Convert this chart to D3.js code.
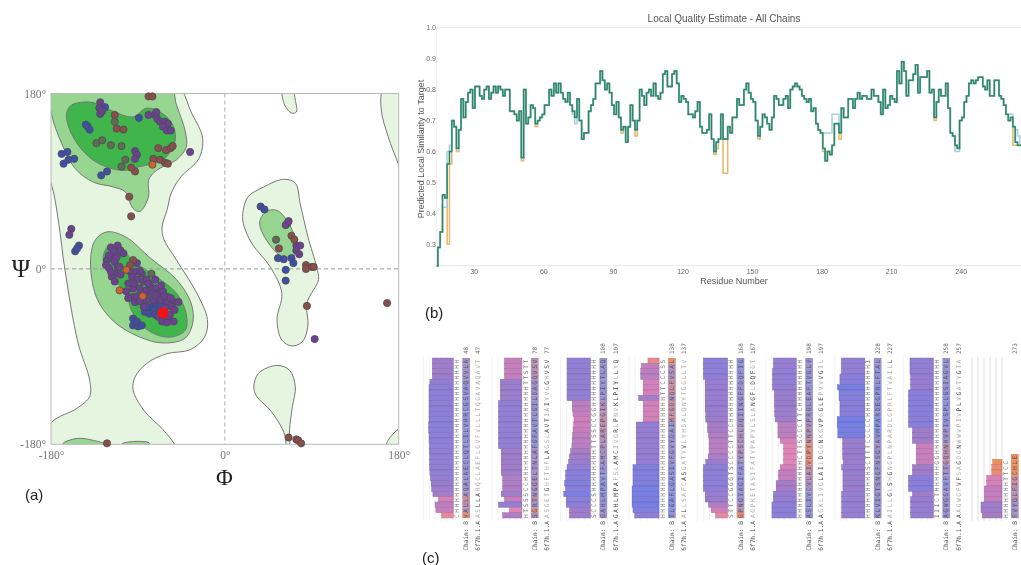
<!DOCTYPE html>
<html>
<head>
<meta charset="utf-8">
<script src="https://cdnjs.cloudflare.com/ajax/libs/d3/7.8.5/d3.min.js"></script>
<style>
  html, body { margin: 0; padding: 0; background: #fff; }
  svg { display: block; filter: blur(0.5px); }
</style>
</head>
<body>
<svg id="fig" width="1021" height="565"></svg>
<script>
// (a) ramachandran contours, [phi, psi] in degrees
const allowedMain = [[-55,195],[-34,159],[-23,134],[-27,113],[-45,95],[-55,79],[-60,60],[-65,43],[-63,30],[-50,9],[-29,-25],[-18,-52],[-21,-70],[-36,-83],[-60,-87],[-81,-97],[-93,-111],[-95,-124],[-84,-145],[-64,-165],[-52,-180],[-45,-195],[-200,-200],[-180,-158],[-153,-143],[-140,-131],[-140,-114],[-152,-76],[-166,2],[-172,47],[-180,88],[-200,130],[-200,200]]
const allowedMid = [[19,60],[24,74],[40,84],[61,92],[73,88],[78,67],[86,33],[95,2],[97,-11],[85,-35],[86,-59],[80,-75],[69,-79],[59,-73],[54,-52],[59,-25],[47,2],[28,26],[19,47]]
const allowedLow = [[54,-99],[67,-104],[73,-121],[70,-141],[67,-165],[67,-182],[64,-189],[62,-170],[47,-145],[33,-131],[30,-121],[35,-107]]
const allowedTop = [[60,183],[62,168],[69,160],[74,161],[73,173],[70,183]]
const allowedTopRight = [[164,183],[162,163],[169,136],[180,107],[187,91],[192,160],[187,187]]
const allowedBottomRight = [[180,-164],[169,-176],[166,-186],[188,-189],[190,-158]]
const favouredTop = [[-58,190],[-50,168],[-41,141],[-40,125],[-50,112],[-71,101],[-79,91],[-79,74],[-88,59],[-95,62],[-103,79],[-115,84],[-136,89],[-155,103],[-169,129],[-178,153],[-181,173],[-176,185]]
const favouredCentre = [[-139,9],[-134,30],[-122,38],[-103,33],[-77,11],[-50,-11],[-35,-35],[-33,-54],[-41,-71],[-64,-76],[-88,-70],[-115,-54],[-133,-29]]
const favouredMid = [[36,47],[43,59],[54,60],[64,50],[73,31],[74,16],[61,12],[47,24]]
const favouredBottomA = [[-168,-180],[-153,-174],[-136,-176],[-125,-180],[-147,-193]]
const favouredBottomB = [[-107,-180],[-91,-177],[-78,-179],[-91,-191]]
const coreTop = [[-164,159],[-159,168],[-138,171],[-119,163],[-95,156],[-81,165],[-64,159],[-53,146],[-52,129],[-64,112],[-88,105],[-105,101],[-126,106],[-143,117],[-159,139]]
const coreCentre = [[-126,9],[-121,23],[-109,23],[-96,9],[-71,-8],[-50,-25],[-40,-46],[-41,-63],[-57,-70],[-78,-64],[-96,-44],[-102,-25],[-115,-11]]

// residues, grouped by dot colour
const ramaBlue = [[-124,166],[-89,155],[-142,146],[-140,143],[-144,148],[-128,96],[-122,100],[-169,118],[-163,120],[-156,113],[-162,112],[-167,108],[-151,24],[-155,18],[-153,21],[-83,-44],[-76,-39],[-71,-39],[-81,-39],[-74,-42],[-67,-44],[-69,-35],[-60,-34],[-78,-46],[-72,-47],[-66,-38],[-95,-51],[-91,-54],[-95,-58],[-90,-59],[-86,-58],[-93,-54],[37,64],[41,61],[55,11],[61,10],[69,11],[71,6],[63,-1],[63,-12]]
const ramaPurple = [[-118,22],[-111,24],[-115,18],[-108,19],[-105,16],[-122,9],[-117,11],[-123,4],[-114,7],[-120,1],[-111,2],[-114,-5],[-117,-8],[-114,-13],[-109,2],[-91,6],[-93,-3],[-86,-5],[-96,-8],[-91,-11],[-84,-13],[-81,-11],[-72,-11],[-77,-18],[-71,-20],[-100,-15],[-95,-20],[-88,-20],[-102,-23],[-96,-29],[-93,-34],[-100,-30],[-81,-22],[-76,-25],[-69,-25],[-64,-23],[-59,-29],[-53,-34],[-48,-34],[-81,-32],[-74,-32],[-67,-32],[-60,-35],[-55,-39],[-84,-39],[-69,-49],[-57,-47],[-53,-54],[-65,-54],[-59,-52],[-120,14],[-112,12],[-118,-3],[-108,-6],[-99,-2],[-88,-2],[-94,-15],[-86,-27],[-91,-28],[-79,-15],[-66,-17],[-72,-27],[-62,-28],[-56,-30],[-88,-33],[-83,-27],[-62,-40],[-52,-42],[-60,-55],[-129,171],[-130,165],[-129,159],[-127,162],[-79,158],[-72,158],[-71,161],[-70,154],[-67,151],[-62,151],[-59,149],[-64,146],[-60,142],[-56,142],[-93,121],[-91,117],[-93,113],[-36,120],[-159,41],[-161,35],[65,47],[63,45],[66,49],[74,24],[78,24],[74,19],[77,15],[93,-72]]
const ramaBrown = [[-93,100],[-97,104],[-69,124],[-61,122],[-56,124],[-54,126],[-74,113],[-67,112],[-62,109],[-59,108],[-99,74],[-97,54],[-79,177],[-75,177],[-95,9],[-98,4],[84,4],[84,0],[90,2],[92,2],[56,21],[69,34],[72,30],[85,-38],[168,-35],[66,-173],[74,-175],[76,-176],[79,-179],[-122,-179],[-114,158],[-112,144],[-105,143]]
const ramaOlive = [[-114,151],[-133,129],[-127,132],[-118,127],[-107,126],[-103,112],[-107,105],[-76,-5],[53,30]]
const ramaOrange = [[-102,-1],[-109,-22],[-85,-28],[-75,107]]
const ramaRed = [[-64,-45]]

// (b) local quality estimate, one value per residue from 14
const chainDark = [0.23,0.29,0.34,0.46,0.45,0.56,0.60,0.70,0.68,0.61,0.67,0.77,0.71,0.76,0.79,0.80,0.74,0.81,0.81,0.78,0.77,0.80,0.81,0.77,0.79,0.81,0.79,0.81,0.80,0.78,0.80,0.80,0.73,0.73,0.72,0.70,0.73,0.58,0.80,0.69,0.71,0.75,0.74,0.69,0.70,0.71,0.72,0.75,0.75,0.80,0.78,0.82,0.79,0.82,0.79,0.77,0.76,0.79,0.75,0.73,0.71,0.77,0.70,0.64,0.66,0.66,0.73,0.75,0.77,0.82,0.82,0.86,0.83,0.80,0.82,0.79,0.75,0.72,0.76,0.71,0.67,0.68,0.63,0.68,0.75,0.70,0.67,0.70,0.80,0.78,0.75,0.79,0.80,0.78,0.82,0.78,0.77,0.79,0.85,0.86,0.81,0.81,0.85,0.86,0.82,0.76,0.78,0.77,0.76,0.72,0.72,0.71,0.73,0.76,0.68,0.66,0.66,0.67,0.72,0.64,0.60,0.63,0.64,0.72,0.64,0.64,0.68,0.66,0.71,0.71,0.77,0.75,0.75,0.80,0.82,0.79,0.77,0.76,0.70,0.65,0.68,0.72,0.71,0.69,0.67,0.71,0.78,0.77,0.75,0.75,0.77,0.78,0.74,0.80,0.81,0.82,0.81,0.80,0.78,0.77,0.76,0.77,0.73,0.74,0.69,0.67,0.66,0.61,0.57,0.60,0.59,0.62,0.69,0.69,0.66,0.74,0.71,0.71,0.77,0.77,0.74,0.77,0.79,0.77,0.78,0.78,0.77,0.77,0.80,0.78,0.78,0.76,0.72,0.80,0.74,0.75,0.78,0.77,0.76,0.86,0.82,0.89,0.86,0.78,0.83,0.83,0.85,0.88,0.79,0.84,0.84,0.84,0.86,0.79,0.80,0.71,0.76,0.80,0.78,0.78,0.82,0.74,0.66,0.65,0.62,0.61,0.70,0.71,0.76,0.78,0.82,0.83,0.82,0.83,0.84,0.84,0.81,0.80,0.83,0.78,0.78,0.83,0.83,0.78,0.77,0.75,0.72,0.70,0.71,0.68,0.63,0.62,0.62,0.62,0.62]
// the other chains only differ at a few residues, [residue, value]
const chainBlueDiff = [[17,0.42],[18,0.42],[19,0.60],[20,0.62],[73,0.72],[74,0.69],[181,0.66],[182,0.66],[183,0.66],[184,0.66],[185,0.72],[186,0.72],[187,0.72],[238,0.60],[239,0.60],[261,0.72],[262,0.72],[263,0.68],[264,0.67],[265,0.65]]
const chainOrangeDiff = [[19,0.30],[20,0.56],[23,0.60],[51,0.57],[57,0.68],[94,0.66],[100,0.65],[129,0.66],[134,0.59],[135,0.61],[138,0.53],[139,0.53],[153,0.64],[181,0.60],[188,0.64],[229,0.70],[263,0.62],[264,0.62]]
const residueTicks = [30,60,90,120,150,180,210,240]
const similarityTicks = [0.3,0.4,0.5,0.6,0.7,0.8,0.9,1.0]

// (c) alignment blocks, top row first
const blockBars = [
  [.70,.70,.70,.70,.78,.81,.81,.81,.81,.81,.81,.81,.82,.82,.81,.81,.80,.80,.79,.79,.79,.78,.76,.74,.72,.68,.50,.61,.58,.39],
  [.58,.58,.58,.58,.72,.72,.72,.72,.78,.78,.78,.78,.78,.78,.78,.78,.78,.69,.69,.69,.69,.69,.64,.64,.64,.69,.58,.78,.42,.64],
  [.78,.78,.78,.78,.78,.78,.78,.78,.61,.61,.58,.55,.56,.58,.60,.61,.62,.66,.70,.73,.78,.83,.83,.86,.83,.89,.81,.81,.70,.70],
  [.37,.59,.61,.61,.53,.53,.53,.68,.53,.53,.53,.53,.76,.76,.76,.76,.76,.76,.76,.76,.87,.87,.87,.87,.90,.90,.90,.90,.87,.81],
  [.81,.81,.81,.81,.75,.75,.75,.75,.75,.75,.73,.73,.67,.67,.64,.62,.62,.62,.65,.73,.81,.81,.81,.81,.81,.75,.75,.64,.55,.40],
  [.76,.76,.79,.79,.79,.79,.73,.73,.73,.72,.72,.70,.61,.61,.61,.53,.42,.42,.42,.42,.53,.59,.59,.67,.67,.76,.76,.81,.81,.81],
  [.78,.78,.78,.83,.83,.91,.86,.86,.83,.83,.83,.92,.92,.90,.90,.74,.74,.74,.74,.72,.77,.73,.73,.73,.73,.77,.77,.77,.77,.77],
  [.78,.78,.78,.76,.76,.76,.83,.83,.83,.83,.83,.83,.83,.70,.70,.70,.57,.57,.57,.57,.70,.70,.83,.83,.83,.70,.76,.76,.76,.76],
  [0,0,0,0,0,0,0,0,0,0,0,0,0,0,0,0,0,0,0,.31,.34,.34,.51,.51,.59,.59,.59,.70,.70,.66]
]
const blockSS = ['CHHHHHHHHHHHHHHHHHHHHHHHHHHHHH','HTSSSCCHHHHHHHHHHHHHHHHHHTTSTT','SCCCSHHHHHHHHTTSSCCGGHHHHHHHHH','HHHHHHHHHHHHHHHHHHHHHHHTTCCCSS','STTCCGGGTSCCCCTTCCHHHHHHHHHHHH','HHHHHHHHHHHCTTSCCCTTCHHHHHHHHH','HHHHHHHHHSCTTTCCCCCHHHHHHHHHHI','IIICTHHHHHGGHHHHHHHHHHHHHHHHHH','HHHHHHHTTCC']
const blockChain = ['VALLAQALAECLQTLILVHRCGSVAQVVLA','SGRTNGGELTNLAFGFAVTLGILDAGQVSV','GAHLMPAVTFAMCPLAREPGIKLPIYTLAQ','TLGAFLGASIVFGVYDAIMFGDNQLFVSAL','GPNGTAGIFATYPSCHLDQIINGFFDQFIG','ASLIVCVLAIVDPYNNPVPRGLEAFTVGLV','KLVIGTSNGFNSGYAVMPARDEGPRLFTAL','AGWGSAVFTTGQHNHVPIVSPLLGSIAGVL','FVYQLFIGCHLE']
const blockTemplate = ['ASLLARQCLAEFLGVFVLLLTQGAVAQAVT','ASGETGHFTHFLAGSLAVTIAIYVGGHVSV','GAHLMPAFSLAMCIVGRLPNVKLPIYLLYQ','ALLSAFCASGATYVLYHDALQNYTGGLLTV','AGPKETASIFATYPAPYLSLANGFLDQFGT','AGKLIVGLAILDGGNKGVPGGLEPVVVGIL','AILLGLSHGNGPLNPARDLGPRLFTVAILL','AAGWGFVFSAGDGNWWVPIVPLVGATYGTA','']
const blockEndChain = ['48','78','108','138','168','198','228','258','273']
const blockEndTemplate = ['47','77','107','137','167','197','227','257','']

const svg = d3.select('#fig')

// ---------- (a) ----------
const phi = d3.scaleLinear().domain([-180, 180]).range([51, 398.7])
const psi = d3.scaleLinear().domain([180, -180]).range([93.5, 444.3])

const lightFill = '#e5f5e0', midFill = '#96d690', darkFill = '#3fb54c', contourStroke = '#777'

svg.append('clipPath').attr('id', 'rama-clip').append('rect')
  .attr('x', phi(-180)).attr('y', psi(180))
  .attr('width', phi(180) - phi(-180)).attr('height', psi(-180) - psi(180))

const contour = d3.line().x(d => phi(d[0])).y(d => psi(d[1])).curve(d3.curveCatmullRomClosed.alpha(0.5))

const rama = svg.append('g').attr('clip-path', 'url(#rama-clip)')
const regions = [
  [allowedMain, lightFill], [allowedMid, lightFill], [allowedLow, lightFill], [allowedTop, lightFill],
  [allowedTopRight, lightFill], [allowedBottomRight, lightFill],
  [favouredTop, midFill], [favouredCentre, midFill], [favouredMid, midFill],
  [favouredBottomA, midFill], [favouredBottomB, midFill],
  [coreTop, darkFill], [coreCentre, darkFill]
]
rama.selectAll('path.region')
  .data(regions)
  .enter()
  .append('path')
  .attr('class', 'region')
  .attr('d', d => contour(d[0]))
  .attr('fill', d => d[1])
  .attr('stroke', contourStroke)
  .attr('stroke-width', 1)

// dashed zero lines
svg.append('line').attr('x1', phi(-180)).attr('x2', phi(180)).attr('y1', psi(0)).attr('y2', psi(0))
  .attr('stroke', '#999').attr('stroke-dasharray', '4 3')
svg.append('line').attr('x1', phi(0)).attr('x2', phi(0)).attr('y1', psi(180)).attr('y2', psi(-180))
  .attr('stroke', '#aaa').attr('stroke-dasharray', '4 3')
svg.append('rect')
  .attr('x', phi(-180)).attr('y', psi(180))
  .attr('width', phi(180) - phi(-180)).attr('height', psi(-180) - psi(180))
  .attr('fill', 'none').attr('stroke', '#bbb')

const dotGroups = [
  [ramaOlive, '#5f6c50'], [ramaBlue, '#3f4fa6'], [ramaPurple, '#6c4190'],
  [ramaBrown, '#8a4f45'], [ramaOrange, '#d0642a']
]
dotGroups.forEach(function(group) {
  svg.append('g')
    .selectAll('circle')
    .data(group[0])
    .enter()
    .append('circle')
    .attr('cx', d => phi(d[0]))
    .attr('cy', d => psi(d[1]))
    .attr('r', 3.6)
    .attr('fill', group[1])
    .attr('stroke', '#4c4a58')
    .attr('stroke-width', 0.8)
})
svg.append('g').selectAll('circle').data(ramaRed).enter().append('circle')
  .attr('cx', d => phi(d[0])).attr('cy', d => psi(d[1])).attr('r', 5.5)
  .attr('fill', '#f01414')

const degTicks = [-180, 0, 180]
const phiAxis = d3.axisBottom(phi).tickValues(degTicks).tickSize(0).tickPadding(0).tickFormat(d => d + '°')
const psiAxis = d3.axisLeft(psi).tickValues(degTicks).tickSize(0).tickPadding(5).tickFormat(d => d + '°')
svg.append('g').attr('class', 'rama-axis').attr('transform', 'translate(0,451)').call(phiAxis)
svg.append('g').attr('class', 'rama-axis').attr('transform', 'translate(51,0)').call(psiAxis)
svg.selectAll('.rama-axis .domain').remove()
svg.selectAll('.rama-axis text').attr('font-family', 'Liberation Serif').attr('font-size', 11.5).attr('fill', '#777')

svg.append('text').text('Ψ').attr('x', 21).attr('y', 277).attr('text-anchor', 'middle')
  .attr('font-family', 'Liberation Serif').attr('font-size', 25).attr('fill', '#222')
svg.append('text').text('Φ').attr('x', 224.5).attr('y', 485).attr('text-anchor', 'middle')
  .attr('font-family', 'Liberation Serif').attr('font-size', 23).attr('fill', '#222')

// panel letters
const letters = [['(a)', 25, 500], ['(b)', 425, 318], ['(c)', 422, 563]]
svg.selectAll('text.letter')
  .data(letters)
  .enter()
  .append('text')
  .attr('class', 'letter')
  .text(d => d[0])
  .attr('x', d => d[1])
  .attr('y', d => d[2])
  .attr('font-family', 'Liberation Sans')
  .attr('font-size', 15)
  .attr('fill', '#222')

// ---------- (b) ----------
const xRes = d3.scaleLinear().domain([14, 266]).range([436.7, 1021])
const yRes = d3.scaleLinear().domain([0.231, 1]).range([265.7, 27.7])

svg.append('line').attr('x1', xRes(14)).attr('x2', 1021).attr('y1', yRes(1)).attr('y2', yRes(1)).attr('stroke', '#e6e6e6')
svg.append('line').attr('x1', xRes(14)).attr('x2', 1021).attr('y1', yRes(0.231)).attr('y2', yRes(0.231)).attr('stroke', '#e6e6e6')
svg.append('line').attr('x1', xRes(14)).attr('x2', xRes(14)).attr('y1', yRes(1)).attr('y2', yRes(0.231)).attr('stroke', '#eee')

const xAxis = d3.axisBottom(xRes).tickValues(residueTicks).tickSize(0).tickPadding(3)
const yAxis = d3.axisLeft(yRes).tickValues(similarityTicks).tickSize(0).tickPadding(1).tickFormat(d3.format('.1f'))
svg.append('g').attr('class', 'q-axis').attr('transform', 'translate(0,' + yRes(0.231) + ')').call(xAxis)
svg.append('g').attr('class', 'q-axis').attr('transform', 'translate(437,0)').call(yAxis)
svg.selectAll('.q-axis .domain').remove()
svg.selectAll('.q-axis text').attr('font-family', 'Liberation Sans').attr('font-size', 7).attr('fill', '#666')

svg.append('text').text('Local Quality Estimate - All Chains')
  .attr('x', 724).attr('y', 22).attr('text-anchor', 'middle')
  .attr('font-family', 'Liberation Sans').attr('font-size', 10).attr('fill', '#555')
svg.append('text').text('Residue Number')
  .attr('x', 734).attr('y', 284).attr('text-anchor', 'middle')
  .attr('font-family', 'Liberation Sans').attr('font-size', 9).attr('fill', '#555')
svg.append('text').text('Predicted Local Similarity to Target')
  .attr('transform', 'translate(424,149) rotate(-90)').attr('text-anchor', 'middle')
  .attr('font-family', 'Liberation Sans').attr('font-size', 9).attr('fill', '#555')

const step = d3.line()
  .x(d => xRes(d[0]))
  .y(d => yRes(d[1]))
  .curve(d3.curveStep)

function withDiff(diff) {
  const byRes = new Map(diff)
  return chainDark.map((v, i) => [14 + i, byRes.has(14 + i) ? byRes.get(14 + i) : v])
}
const lineLayers = [
  [withDiff(chainOrangeDiff), '#e2b86c', 1.5],
  [withDiff(chainBlueDiff), '#a6cde4', 1.5],
  [withDiff([]), '#52ab92', 1.8],
  [withDiff([]), '#1f6a5a', 0.7]
]
svg.append('g').selectAll('path')
  .data(lineLayers)
  .enter()
  .append('path')
  .attr('d', d => step(d[0]))
  .attr('fill', 'none')
  .attr('stroke', d => d[1])
  .attr('stroke-width', d => d[2])

// ---------- (c) ----------
const blockX = d3.scaleLinear().domain([0, 8]).range([453.3, 1002])
const rowY = d3.scaleBand().domain(d3.range(30)).range([358, 518])
const barLen = d3.scaleLinear().domain([0, 1]).range([0, 30])
const barColour = d3.scaleLinear()
  .domain([0.3, 0.42, 0.55, 0.68, 0.8, 0.92])
  .range(['#ef9050', '#e085b8', '#cf80ba', '#a27dc8', '#8f7fd6', '#757fe4'])
const bandColour = d3.scaleLinear()
  .domain([0.3, 0.5, 0.62, 0.75, 0.9])
  .range(['#f09050', '#cf8f98', '#ad90bc', '#9a92cc', '#8a92dc'])
const mono = 'DejaVu Sans Mono'
const charAdvance = rowY.bandwidth()

function seqText(g, x, str, fill) {
  // rotated string, first letter at the bottom row
  const t = g.append('text')
    .attr('transform', 'translate(' + x + ',' + rowY.range()[1] + ') rotate(-90)')
    .attr('font-family', mono)
    .attr('font-size', 6.2)
    .attr('dy', '0.35em')
    .attr('letter-spacing', charAdvance - 6.2 * 0.602)
    .attr('fill', fill)
  return t.text(str)
}

blockBars.forEach(function(values, b) {
  const right = blockX(b)
  const g = svg.append('g').attr('class', 'block')

  // faint guide lines behind the bars
  g.selectAll('line.guide')
    .data(d3.range(0, 1.2, 0.2))
    .enter()
    .append('line')
    .attr('class', 'guide')
    .attr('x1', d => right - barLen(d))
    .attr('x2', d => right - barLen(d))
    .attr('y1', 357)
    .attr('y2', 521)
    .attr('stroke', b === 8 ? '#d4d4d4' : '#ececec')
    .attr('stroke-width', 0.7)

  const rows = values.map((v, i) => ({ v: v, i: i })).filter(d => d.v > 0)
  g.selectAll('rect.bar')
    .data(rows)
    .enter()
    .append('rect')
    .attr('class', 'bar')
    .attr('x', d => right - barLen(d.v))
    .attr('y', d => rowY(d.i))
    .attr('width', d => barLen(d.v))
    .attr('height', rowY.bandwidth())
    .attr('fill', d => barColour(d.v))
    .attr('stroke', d => d3.color(barColour(d.v)).darker(0.7))
    .attr('stroke-width', 0.4)

  g.selectAll('rect.band')
    .data(blockChain[b].split('').map((c, j) => ({ j: j, v: values[29 - j] || 0.35 })))
    .enter()
    .append('rect')
    .attr('class', 'band')
    .attr('x', right + 9)
    .attr('y', d => rowY(29 - d.j))
    .attr('width', 7.7)
    .attr('height', rowY.bandwidth() + 0.2)
    .attr('fill', d => bandColour(d.v))

  seqText(g, right + 3.5, blockSS[b], '#777')
  seqText(g, right + 12.8, blockChain[b], '#555568')

  // template letters: dark where identical to the chain, pale otherwise
  const template = seqText(g, right + 25, '', '#777')
  blockTemplate[b].split('').forEach(function(c, j) {
    template.append('tspan').text(c).attr('fill', c === blockChain[b][j] ? '#444' : '#aaa')
  })

  const labels = [['Chain: B', 12.8], ['6f7h.1.A', 25]]
  labels.forEach(function(l) {
    if (l[1] === 25 && !blockTemplate[b]) return
    g.append('text').text(l[0])
      .attr('transform', 'translate(' + (right + l[1]) + ',' + (rowY.range()[1] + 3) + ') rotate(-90)')
      .attr('text-anchor', 'end')
      .attr('dy', '0.35em')
      .attr('font-family', mono)
      .attr('font-size', 6.2)
      .attr('fill', '#555')
  })

  const ends = [[blockEndChain[b], 12.8], [blockEndTemplate[b], 25]]
  ends.forEach(function(e) {
    g.append('text').text(e[0])
      .attr('transform', 'translate(' + (right + e[1]) + ',354) rotate(-90)')
      .attr('dy', '0.35em')
      .attr('font-family', mono)
      .attr('font-size', 6)
      .attr('fill', '#666')
  })
})
</script>
</body>
</html>
